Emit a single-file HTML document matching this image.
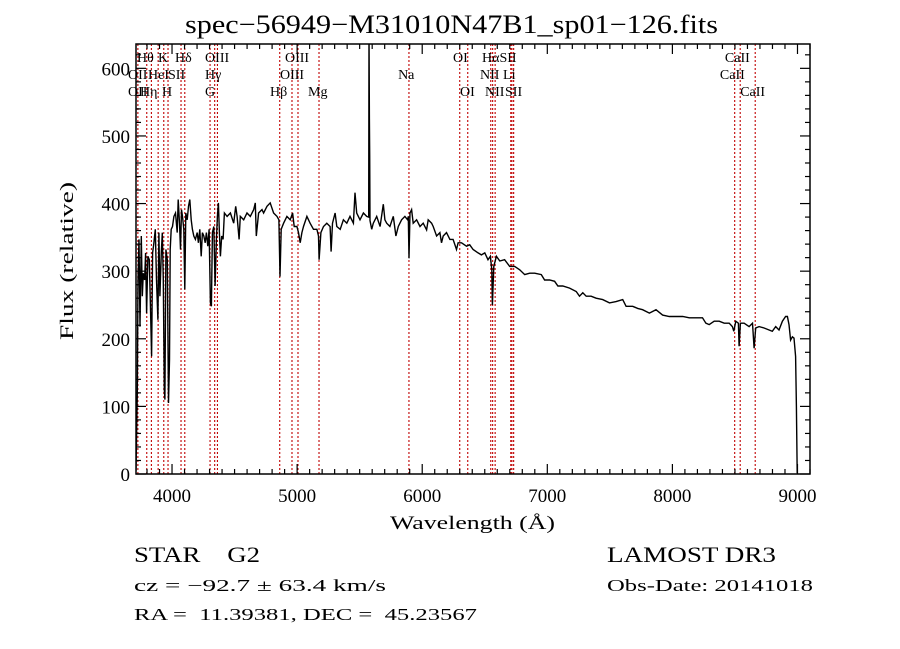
<!DOCTYPE html>
<html><head><meta charset="utf-8"><style>
html,body{margin:0;padding:0;background:#fff;}
svg{display:block;font-family:"Liberation Serif",serif;}
</style></head><body>
<svg id="chart" width="900" height="649" viewBox="0 0 900 649" xmlns="http://www.w3.org/2000/svg">
<rect width="900" height="649" fill="#fff"/>
<text x="185" y="33" font-size="26" textLength="533" lengthAdjust="spacingAndGlyphs">spec−56949−M31010N47B1_sp01−126.fits</text>
<g id="lines"></g>
<g id="labels" font-size="14"></g>
<path id="spec" fill="none" stroke="#000" stroke-width="1.4" stroke-linejoin="miter"/>
<g id="axes"></g>
<text x="390" y="529" font-size="19" textLength="165" lengthAdjust="spacingAndGlyphs">Wavelength (Å)</text>
<text transform="translate(73,340) rotate(-90)" font-size="19" textLength="158" lengthAdjust="spacingAndGlyphs">Flux (relative)</text>
<text x="134" y="562" font-size="22" textLength="126" lengthAdjust="spacingAndGlyphs" xml:space="preserve">STAR    G2</text>
<text x="134" y="591" font-size="17" textLength="252" lengthAdjust="spacingAndGlyphs">cz = −92.7 ± 63.4 km/s</text>
<text x="134" y="620" font-size="17" textLength="343" lengthAdjust="spacingAndGlyphs" xml:space="preserve">RA =  11.39381, DEC =  45.23567</text>
<text x="607" y="562" font-size="22" textLength="169" lengthAdjust="spacingAndGlyphs">LAMOST DR3</text>
<text x="607" y="591" font-size="17" textLength="206" lengthAdjust="spacingAndGlyphs">Obs-Date: 20141018</text>
</svg>
<script>
const wave = [3712,3722,3728,3736,3744,3754,3762,3770,3781,3789,3797,3807,3818,3829,3837,3845,3855,3866,3876,3887,3895,3903,3914,3922,3930,3938,3943,3951,3962,3972,3980,3985,3993,4004,4015,4028,4041,4049,4060,4068,4076,4084,4094,4102,4110,4121,4132,4142,4153,4163,4174,4187,4201,4211,4222,4233,4243,4254,4265,4275,4286,4296,4307,4315,4323,4334,4344,4355,4363,4371,4379,4387,4397,4408,4419,4440,4467,4493,4509,4520,4536,4546,4573,4599,4626,4653,4666,4674,4692,4719,4732,4759,4785,4812,4839,4854,4863,4873,4892,4918,4945,4964,4977,4998,5011,5025,5038,5051,5078,5104,5131,5158,5171,5176,5190,5211,5237,5264,5272,5283,5304,5317,5344,5370,5397,5423,5450,5463,5476,5503,5530,5556,5572,5575,5578,5580,5583,5596,5609,5636,5663,5689,5702,5716,5742,5769,5790,5809,5835,5862,5883,5889,5894,5902,5915,5928,5955,5982,6008,6035,6048,6075,6088,6115,6141,6154,6168,6194,6221,6247,6274,6287,6314,6354,6380,6407,6447,6473,6500,6526,6545,6556,6561,6572,6593,6620,6659,6699,6739,6779,6819,6859,6899,6952,6978,7018,7058,7085,7124,7178,7231,7257,7284,7311,7350,7390,7443,7497,7550,7603,7630,7683,7723,7762,7816,7869,7922,7975,8028,8082,8135,8188,8241,8268,8294,8334,8374,8414,8454,8480,8491,8507,8528,8533,8544,8573,8613,8640,8653,8666,8693,8733,8773,8799,8826,8852,8879,8905,8919,8932,8945,8959,8972,8985,8991,8998];
const flux = [5,120,287,347,218,352,263,297,287,327,238,322,317,238,174,327,342,362,287,228,357,263,327,357,287,125,110,332,317,105,169,332,362,366,381,386,357,406,371,332,391,381,362,273,386,376,396,406,376,362,352,347,357,342,362,322,357,352,342,357,337,362,253,248,357,366,278,347,381,401,357,322,352,347,386,381,386,371,396,381,347,381,376,386,381,391,401,352,386,391,386,396,401,386,381,376,292,362,371,381,376,386,366,366,357,342,357,366,381,371,362,362,352,317,357,366,371,366,329,371,386,366,362,376,371,381,371,416,386,376,386,381,380,660,525,470,375,362,371,381,366,399,376,371,366,381,352,366,376,381,376,381,319,386,391,371,376,366,371,361,376,371,366,352,357,342,352,357,347,347,332,342,342,337,339,332,327,324,327,317,322,302,250,307,322,315,317,307,307,302,295,297,297,295,287,287,285,278,278,275,270,263,268,263,263,260,258,253,255,258,248,248,245,243,238,243,235,233,233,233,231,231,231,223,221,226,226,223,223,218,211,226,223,189,223,223,218,223,186,216,218,216,213,211,218,213,226,233,233,221,198,203,201,174,100,1];
const lineWaves = [3727,3798,3835,3889,3934,3968,4072,4102,4304,4341,4363,4861,4959,5007,5175,5894,6300,6364,6548,6563,6583,6708,6717,6731,8498,8542,8662];
const labelText = ["Hθ","K","Hδ","OIII","OIII","OI","HαSII","CaII","OII","HeI","SII","Hγ","OIII","Na","NII","Li","CaII","OII","Hη","H","G","Hβ","Mg","OI","NII","SII","CaII"];
const labelWave = [3720,3888,4024,4264,4903,6246,6478,8420,3648,3808,3968,4264,4863,5807,6462,6646,8380,3648,3744,3920,4264,4783,5087,6302,6502,6662,8542];
const labelRow = [0,0,0,0,0,0,0,0,1,1,1,1,1,1,1,1,1,2,2,2,2,2,2,2,2,2,2];
const xTicks = [4000,5000,6000,7000,8000,9000];
const yTicks = [0,100,200,300,400,500,600];
const XMIN=3712, XMAX=9100, YMIN=0, YMAX=636;
const L=136,R=810,T=44,B=474;
const X=l=>L+(l-XMIN)/(XMAX-XMIN)*(R-L);
const Y=v=>B-(v-YMIN)/(YMAX-YMIN)*(B-T);
const NS="http://www.w3.org/2000/svg";
function mk(tag,attrs,parent){const e=document.createElementNS(NS,tag);for(const k in attrs)e.setAttribute(k,attrs[k]);parent.appendChild(e);return e;}
const defs=mk('defs',{},document.getElementById('chart'));
const cp=mk('clipPath',{id:'plotclip'},defs);
mk('rect',{x:L,y:T,width:R-L,height:B-T},cp);
const lg=document.getElementById('lines');
lineWaves.forEach(w=>{
  const ln=mk('line',{x1:X(w),x2:X(w),y1:T,y2:B,stroke:'#c00000','stroke-width':1.1,'stroke-dasharray':'2,2'},lg);
  
  
});
const lb=document.getElementById('labels');
labelText.forEach((t,i)=>{
  const tx=mk('text',{x:X(labelWave[i]),y:62+labelRow[i]*17},lb);
  tx.textContent=t;
  
  
});
let d='';
wave.forEach((w,i)=>{const x=X(w),y=Y(flux[i]);d+=(i?'L':'M')+x.toFixed(1)+','+y.toFixed(1)+' ';});
const sp=document.getElementById('spec');
sp.setAttribute('d',d);
sp.setAttribute('clip-path','url(#plotclip)');
const ax=document.getElementById('axes');
mk('rect',{x:L,y:T,width:R-L,height:B-T,fill:'none',stroke:'#000','stroke-width':1.5},ax);
for(let w=3800;w<=9100;w+=100){
  const x=X(w),maj=w%1000===0,len=maj?10:5;
  mk('line',{x1:x,x2:x,y1:B,y2:B-len,stroke:'#000','stroke-width':1.2},ax);
  mk('line',{x1:x,x2:x,y1:T,y2:T+len,stroke:'#000','stroke-width':1.2},ax);
}
for(let v=0;v<=636;v+=20){
  const y=Y(v),maj=v%100===0,len=maj?10:5;
  mk('line',{x1:L,x2:L+len,y1:y,y2:y,stroke:'#000','stroke-width':1.2},ax);
  mk('line',{x1:R,x2:R-len,y1:y,y2:y,stroke:'#000','stroke-width':1.2},ax);
}
xTicks.forEach(t=>{
  const tx=mk('text',{x:X(t),y:B+28,'font-size':19,'text-anchor':'middle'},ax);
  tx.textContent=t;
  
  
});
yTicks.forEach(t=>{
  const tx=mk('text',{x:L-6,y:Y(t)+7,'font-size':19,'text-anchor':'end'},ax);
  tx.textContent=t;
  
  
});
</script>
</body></html>
